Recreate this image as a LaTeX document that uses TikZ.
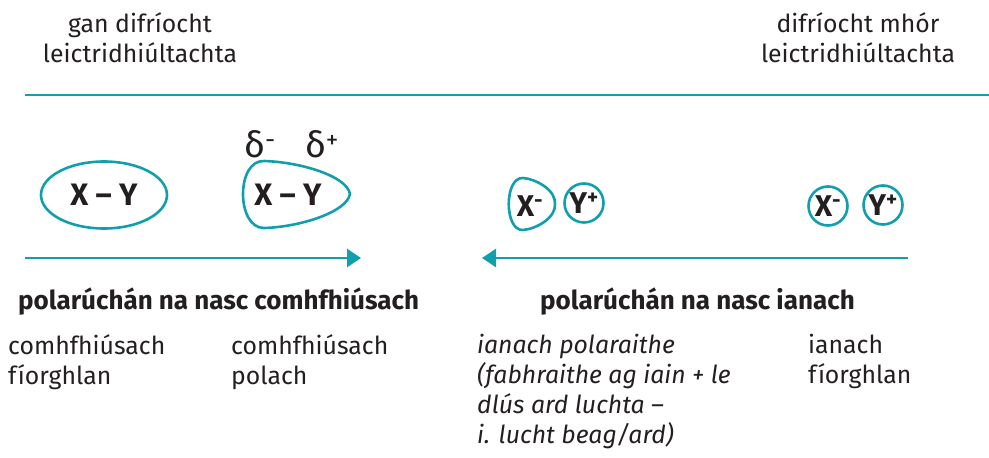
\documentclass[tikz,border=0pt]{standalone}
\usepackage{fontspec}
\setmainfont{Fira Sans}[Scale=1]
\usetikzlibrary{shapes.geometric,arrows.meta}
\definecolor{teal}{HTML}{129FAD}
\definecolor{ink}{HTML}{231F20}
\tikzset{
  txt/.style={text=ink,font=\fontsize{24.8}{30}\selectfont,inner sep=0pt,align=left},
  head/.style={text=ink,font=\fontsize{26}{30}\selectfont\bfseries,inner sep=0pt},
  outline/.style={draw=teal,line width=2.6pt},
  ion/.style={outline,circle,minimum size=39pt,inner sep=0pt,text=ink,font=\fontsize{30}{30}\selectfont\bfseries},
  mol/.style={text=ink,font=\fontsize{31}{32}\selectfont\bfseries,inner sep=0pt},
  axis/.style={draw=teal,line width=2.7pt},
  tip/.style={-{Triangle[length=14pt,width=18pt]}}
}
\begin{document}
\begin{tikzpicture}[x=1pt,y=-1pt]
\useasboundingbox (0,0) rectangle (989,458);
% scale headings
\node[txt,align=center] (low) at (140,38) {gan difríocht\\leictridhiúltachta};
\node[txt,align=center] (high) at (858,38) {difríocht mhór\\leictridhiúltachta};
\coordinate (ruleL) at (25,95);
\coordinate (ruleR) at (989,95);
\draw[axis] (ruleL) -- (ruleR);
% pure covalent bond
\node[outline,ellipse,minimum width=126pt,minimum height=67pt,mol] (pure) at (104,195) {X -- Y};
% polar covalent bond
\node[mol] (polar) at (288,195) {X -- Y};
\draw[outline] (350,194) .. controls (347,176) and (300,162) .. (264,161)
  .. controls (236,160) and (236,228) .. (264,228)
  .. controls (300,227) and (347,212) .. (350,194) -- cycle;
\node[text=ink,font=\fontsize{36}{36}\selectfont,inner sep=0pt] (dm) at (260,144) {δ\textsuperscript{-}};
\node[text=ink,font=\fontsize{36}{36}\selectfont,inner sep=0pt] (dp) at (322,144) {δ\textsuperscript{+}};
% polarised ionic bond
\node[mol,font=\fontsize{30}{30}\selectfont\bfseries] (xp) at (530,206) {X\textsuperscript{-}};
\draw[outline] (555,204) .. controls (556,190) and (536,179) .. (523,178)
  .. controls (504,177) and (504,231) .. (523,230)
  .. controls (536,229) and (556,218) .. (555,204) -- cycle;
\node[ion] (yp) at (584,203) {Y\textsuperscript{+}};
% pure ionic bond
\node[ion] (xi) at (828,206) {X\textsuperscript{-}};
\node[ion] (yi) at (883,205) {Y\textsuperscript{+}};
% direction arrows
\coordinate (a1s) at (25,258);
\coordinate (a1e) at (361,258);
\coordinate (a2s) at (908,258);
\coordinate (a2e) at (482,258);
\draw[axis,tip] (a1s) -- (a1e);
\draw[axis,tip] (a2s) -- (a2e);
% captions
\node[head,anchor=west] (capL) at (18,302) {polarúchán na nasc comhfhiúsach};
\node[head,anchor=west] (capR) at (540,302) {polarúchán na nasc ianach};
\node[txt,anchor=north west] (c1) at (8,334) {comhfhiúsach\\fíorghlan};
\node[txt,anchor=north west] (c2) at (231,334) {comhfhiúsach\\polach};
\node[txt,anchor=north west,font=\fontsize{24.8}{30}\selectfont\itshape] (c3) at (477,334) {ianach polaraithe\\(fabhraithe ag iain + le\\dlús ard luchta --\\i. lucht beag/ard)};
\node[txt,anchor=north west] (c4) at (808,334) {ianach\\fíorghlan};
\end{tikzpicture}
\end{document}
